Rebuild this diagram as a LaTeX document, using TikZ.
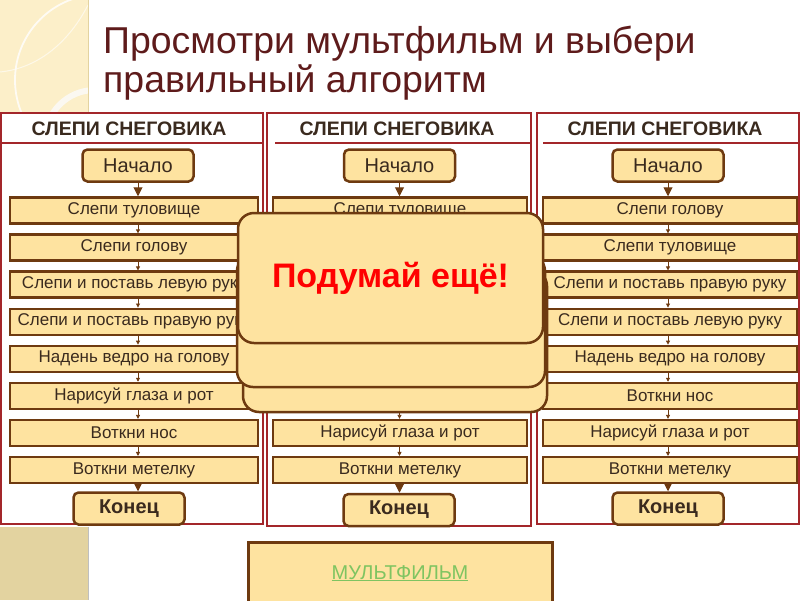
\documentclass[tikz,border=0pt]{standalone}
\usepackage{fontspec}
\setmainfont{Liberation Sans}
\usetikzlibrary{arrows.meta}
\definecolor{frame}{HTML}{A3262A}
\definecolor{boxb}{HTML}{6E3A10}
\definecolor{boxf}{HTML}{FEE3A0}
\definecolor{txt}{HTML}{3A2A1E}
\definecolor{ttl}{HTML}{5E1B1B}
\definecolor{panel}{HTML}{FCEFC9}
\definecolor{panelb}{HTML}{E3D3A0}
\definecolor{lnk}{HTML}{7FC461}
\begin{document}
\begin{tikzpicture}[x=1pt,y=-1pt,
  stepbox/.style={draw=boxb,line width=2.5pt,fill=boxf,minimum height=26pt,inner sep=0pt,font=\fontsize{17}{19}\selectfont,text=txt},
  termbox/.style={draw=boxb,line width=2.5pt,fill=boxf,rounded corners=5pt,minimum width=111pt,minimum height=32pt,inner sep=0pt,text=txt},
  colframe/.style={draw=frame,line width=2pt},
  hdr/.style={font=\bfseries\fontsize{19.5}{22}\selectfont,text=txt},
  smallarrow/.style={draw=boxb,line width=0.8pt,-{Triangle[width=4pt,length=4pt]}},
  bigarrow/.style={draw=boxb,line width=1pt,-{Triangle[width=9pt,length=9pt]}},
  ovl/.style={draw=boxb,line width=2.5pt,fill=boxf,rounded corners=16pt}]
\useasboundingbox (0,0) rectangle (800,600);
% background panels
\fill[panel] (0,0) rectangle (88,113);
\begin{scope}
\clip (0,0) rectangle (88,113);
\draw[white,opacity=0.8,line width=1.8pt] (100.7,80) circle (85.7);
\draw[white,opacity=0.6,line width=1pt] (0,72) .. controls (40,68) and (70,40) .. (88,5);
\draw[white!85!panelb,line width=6pt] (95,140) circle (50);
\end{scope}
\draw[panelb,line width=1pt] (88,0) -- (88,113);
\fill[panelb] (0,527) rectangle (88,600);
\draw[black!25,line width=1pt] (88,527) -- (88,600);
% title
\node[anchor=base west,text=ttl,font=\fontsize{37.4}{40}\selectfont,inner sep=0pt] (t1) at (103,53) {Просмотри мультфильм и выбери};
\node[anchor=base west,text=ttl,font=\fontsize{37.4}{40}\selectfont,inner sep=0pt] (t2) at (103,92) {правильный алгоритм};
% frames
\draw[colframe] (1,113) rectangle (263,524);
\draw[colframe] (1,143) -- (263,143);
\draw[colframe] (267,113) rectangle (531,526);
\draw[colframe] (275,143) -- (531,143);
\draw[colframe] (537,113) rectangle (799,524);
\draw[colframe] (543,143) -- (799,143);
\node[hdr] (h1) at (129,129) {СЛЕПИ СНЕГОВИКА};
\node[hdr] (h2) at (397,129) {СЛЕПИ СНЕГОВИКА};
\node[hdr] (h3) at (665,129) {СЛЕПИ СНЕГОВИКА};
% column 1
\node[termbox,font=\fontsize{20}{22}\selectfont] (a0) at (138,165.5) {Начало};
\foreach[count=\i] \t in {Слепи туловище,Слепи голову,Слепи и поставь левую руку,Слепи и поставь правую руку,Надень ведро на голову,Нарисуй глаза и рот,Воткни нос,Воткни метелку}
  \node[stepbox,minimum width=248pt] (a\i) at (134,{210.5+37.1*(\i-1)}) {\t};
\node[termbox,font=\bfseries\fontsize{20}{22}\selectfont] (ae) at (129,508.5) {Конец};
% column 2
\node[termbox,font=\fontsize{20}{22}\selectfont] (b0) at (399.5,165.5) {Начало};
\foreach[count=\i] \t in {Слепи туловище,{},{},{},{},{},Нарисуй глаза и рот,Воткни метелку}
  \node[stepbox,minimum width=254pt] (b\i) at (400,{210.5+37.1*(\i-1)}) {\t};
\node[termbox,font=\bfseries\fontsize{20}{22}\selectfont] (be) at (399,510) {Конец};
% column 3
\node[termbox,font=\fontsize{20}{22}\selectfont] (c0) at (668,165.5) {Начало};
\foreach[count=\i] \t in {Слепи голову,Слепи туловище,Слепи и поставь правую руку,Слепи и поставь левую руку,Надень ведро на голову,Воткни нос,Нарисуй глаза и рот,Воткни метелку}
  \node[stepbox,minimum width=254pt] (c\i) at (670,{210.5+37.1*(\i-1)}) {\t};
\node[termbox,font=\bfseries\fontsize{20}{22}\selectfont] (ce) at (668,508.5) {Конец};
% connectors
\foreach \c in {a,b,c}{
  \draw[bigarrow] (\c0.south) -- (\c0.south |- \c1.north);
  \foreach \i [evaluate=\i as \j using int(\i+1)] in {1,...,7}
    \draw[smallarrow] (\c\i.south -| \c0) -- (\c0 |- \c\j.north);
  \draw[bigarrow] (\c8.south -| \c0) -- (\c0 |- \c e.north);
}
% overlay
\draw[ovl] (243,270) rectangle (547,412);
\draw[ovl] (237,255) rectangle (545,387);
\node[ovl,minimum width=305pt,minimum height=130pt,text=red,font=\bfseries\fontsize{34}{40}\selectfont] (think) at (390.5,278) {Подумай ещё!};
% bottom button
\node[draw=boxb,line width=3pt,fill=boxf,minimum width=304pt,minimum height=64pt] (mf) at (400,574) {};
\node[text=lnk,font=\fontsize{20}{22}\selectfont,anchor=base] (mft) at (400,579) {\underline{МУЛЬТФИЛЬМ}};
\end{tikzpicture}
\end{document}
